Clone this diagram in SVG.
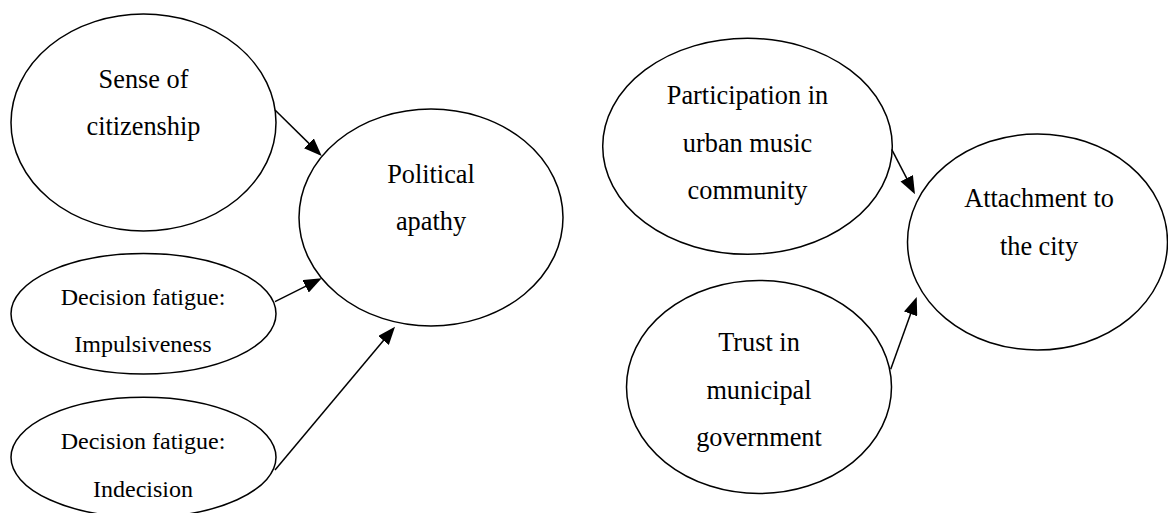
<svg xmlns="http://www.w3.org/2000/svg" width="1168" height="513" viewBox="0 0 1168 513">
  <style>
    .node ellipse { fill: #ffffff; stroke: #000000; stroke-width: 1.5; }
    .node text { font-family: "Liberation Serif", "Times New Roman", serif; fill: #000000; text-anchor: middle; }
    .lg { font-size: 26.3px; }
    .sm { font-size: 24px; }
    .edges line { stroke: #000000; stroke-width: 1.5; marker-end: url(#arrow); }
  </style>
  <defs>
    <marker id="arrow" viewBox="0 0 18 14" refX="15" refY="7" markerWidth="18" markerHeight="14" markerUnits="userSpaceOnUse" orient="auto">
      <path d="M0,0 L18,7 L0,14 Z" fill="#000000"/>
    </marker>
  </defs>
  <rect width="1168" height="513" fill="#ffffff"/>

  <!-- left model -->
  <g id="sense-of-citizenship" class="node">
    <ellipse cx="143.5" cy="122.5" rx="132.5" ry="108.5"/>
    <text class="lg" x="143.5" y="88">Sense of</text>
    <text class="lg" x="143.5" y="135">citizenship</text>
  </g>
  <g id="political-apathy" class="node">
    <ellipse cx="431" cy="217.5" rx="132" ry="108.5"/>
    <text class="lg" x="431" y="182.7">Political</text>
    <text class="lg" x="431" y="230">apathy</text>
  </g>
  <g id="impulsiveness" class="node">
    <ellipse cx="143.5" cy="313.7" rx="132.5" ry="60.3"/>
    <text class="sm" x="143" y="305">Decision fatigue:</text>
    <text class="sm" x="143" y="351.7">Impulsiveness</text>
  </g>
  <g id="indecision" class="node">
    <ellipse cx="143.5" cy="457.3" rx="132.5" ry="60"/>
    <text class="sm" x="143" y="449.3">Decision fatigue:</text>
    <text class="sm" x="143" y="496.7">Indecision</text>
  </g>

  <!-- right model -->
  <g id="urban-music" class="node">
    <ellipse cx="747.5" cy="146.3" rx="144.8" ry="108"/>
    <text class="lg" x="747.5" y="104">Participation in</text>
    <text class="lg" x="747.5" y="151.7">urban music</text>
    <text class="lg" x="747.5" y="199.3">community</text>
  </g>
  <g id="attachment" class="node">
    <ellipse cx="1037.5" cy="242" rx="130" ry="108"/>
    <text class="lg" x="1039" y="207.3">Attachment to</text>
    <text class="lg" x="1039" y="254.7">the city</text>
  </g>
  <g id="trust" class="node">
    <ellipse cx="759" cy="387" rx="132.5" ry="106.5"/>
    <text class="lg" x="759" y="350.7">Trust in</text>
    <text class="lg" x="759" y="398.7">municipal</text>
    <text class="lg" x="759" y="446">government</text>
  </g>

  <!-- arrows: line ends 3px short of the tip, marker covers the rest -->
  <g id="connectors" class="edges">
    <line x1="275" y1="110" x2="319.6" y2="153.9"/>
    <line x1="275" y1="301.7" x2="319" y2="279.6"/>
    <line x1="275" y1="470" x2="393.1" y2="329"/>
    <line x1="891.7" y1="149.3" x2="913.6" y2="191.6"/>
    <line x1="890.7" y1="369.3" x2="915.7" y2="299.8"/>
  </g>
</svg>
